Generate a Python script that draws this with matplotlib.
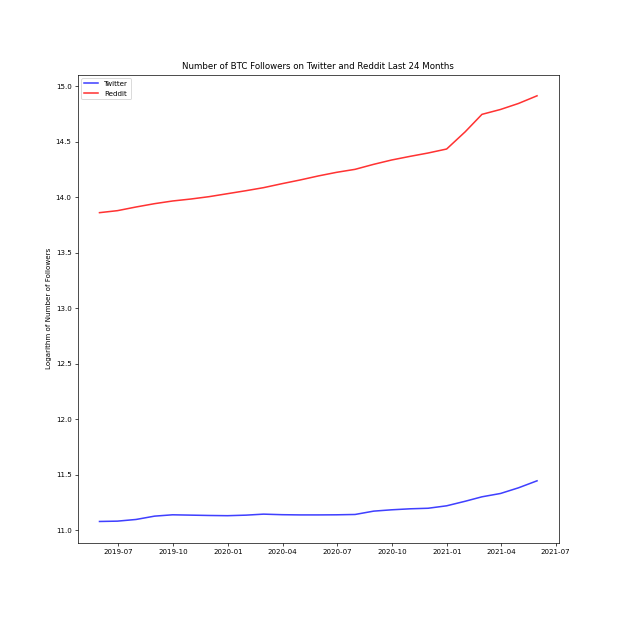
import numpy as np
import pandas as pd
import matplotlib
matplotlib.use('Agg')
import matplotlib.pyplot as plt

dates = pd.date_range('2019-05-31', periods=25, freq='ME')

twitter = [11.081, 11.084, 11.099, 11.129, 11.141, 11.138, 11.135, 11.133, 11.138,
           11.147, 11.142, 11.140, 11.140, 11.141, 11.144, 11.174, 11.186, 11.195,
           11.200, 11.222, 11.263, 11.303, 11.333, 11.384, 11.447]

reddit = [13.861, 13.879, 13.912, 13.942, 13.966, 13.984, 14.005, 14.032, 14.059,
          14.086, 14.122, 14.155, 14.192, 14.224, 14.251, 14.296, 14.335, 14.368,
          14.398, 14.434, 14.589, 14.746, 14.790, 14.844, 14.913]

plt.rcParams['font.size'] = 8.3
fig = plt.figure(figsize=(10, 10), dpi=62.1)
plt.subplots_adjust(bottom=0.126)
plt.plot(dates, twitter, color='blue', alpha=0.75, lw=1.8, label='Twitter')
plt.plot(dates, reddit, color='red', alpha=0.8, lw=1.8, label='Reddit')
plt.title('Number of BTC Followers on Twitter and Reddit Last 24 Months', fontsize=10)
plt.ylabel('Logarithm of Number of Followers')
plt.legend(loc='upper left')
plt.savefig('out.png', dpi=62.1)
